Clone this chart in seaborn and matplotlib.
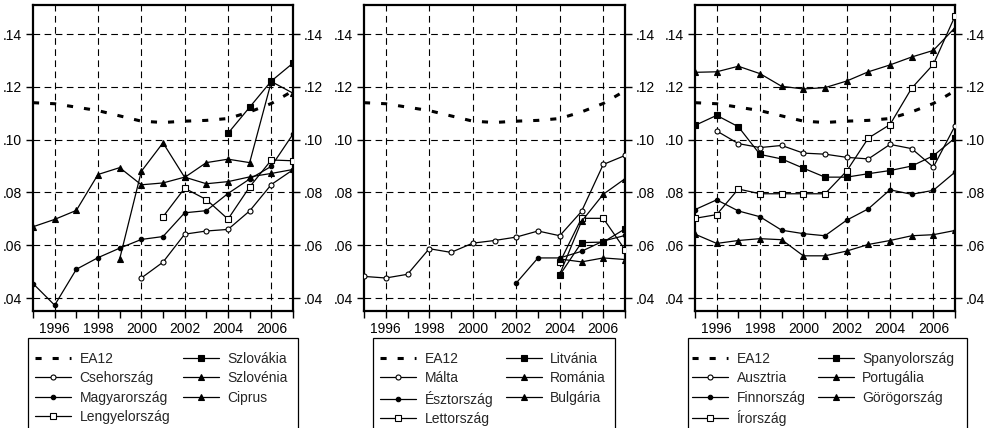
import matplotlib
matplotlib.use('Agg')
import matplotlib.pyplot as plt
import seaborn as sns
import pandas as pd
from matplotlib.lines import Line2D
from matplotlib.patches import Rectangle
from matplotlib.ticker import FixedLocator, FuncFormatter

# ---------------- data ----------------
years = list(range(1995, 2008))
x_major = [1996, 1998, 2000, 2002, 2004, 2006]
y_ticks = [0.04, 0.06, 0.08, 0.10, 0.12, 0.14]

ea12 = [0.1140, 0.1136, 0.1123, 0.1110, 0.1090, 0.1070, 0.1065, 0.1070, 0.1073, 0.1080, 0.1105, 0.1137, 0.1185]

# panel 1
csehorszag = [None, None, None, None, None, 0.0476, 0.0536, 0.0642, 0.0654, 0.0660, 0.0730, 0.0830, 0.0886]
magyarorszag = [0.0455, 0.0373, 0.0509, 0.0553, 0.0589, 0.0622, 0.0633, 0.0723, 0.0731, 0.0796, 0.0851, 0.0899, 0.1021]
lengyelorszag = [None, None, None, None, None, None, 0.0708, 0.0816, 0.0773, 0.0699, 0.0821, 0.0923, 0.0920]
szlovakia = [None, None, None, None, None, None, None, None, None, 0.1024, 0.1123, 0.1222, 0.1290]
szlovenia = [0.0670, 0.0698, 0.0732, 0.0868, 0.0894, 0.0829, 0.0836, 0.0858, 0.0833, 0.0841, 0.0859, 0.0872, 0.0887]
ciprus = [None, None, None, None, 0.0548, 0.0880, 0.0988, 0.0857, 0.0913, 0.0926, 0.0913, 0.1220, 0.1176]

# panel 2
malta = [0.0482, 0.0476, 0.0490, 0.0587, 0.0573, 0.0608, 0.0618, 0.0631, 0.0654, 0.0636, 0.0728, 0.0906, 0.0940]
esztorszag = [None, None, None, None, None, None, None, 0.0457, 0.0552, 0.0552, 0.0577, 0.0616, 0.0637]
lettorszag = [None, None, None, None, None, None, None, None, None, 0.0535, 0.0702, 0.0702, 0.0583]
litvania = [None, None, None, None, None, None, None, None, None, 0.0487, 0.0610, 0.0612, 0.0662]
romania = [None, None, None, None, None, None, None, None, None, 0.0490, 0.0690, 0.0793, 0.0852]
bulgaria = [None, None, None, None, None, None, None, None, None, 0.0548, 0.0537, 0.0552, 0.0546]

# panel 3
ausztria = [None, 0.1033, 0.0985, 0.0970, 0.0978, 0.0949, 0.0945, 0.0933, 0.0927, 0.0982, 0.0966, 0.0896, 0.1052]
finnorszag = [0.0735, 0.0772, 0.0730, 0.0708, 0.0657, 0.0644, 0.0636, 0.0695, 0.0738, 0.0810, 0.0793, 0.0808, 0.0877]
irorszag = [0.0702, 0.0716, 0.0813, 0.0795, 0.0795, 0.0795, 0.0795, 0.0881, 0.1006, 0.1057, 0.1195, 0.1285, 0.1468]
spanyolorszag = [0.1054, 0.1092, 0.1049, 0.0944, 0.0927, 0.0892, 0.0858, 0.0858, 0.0871, 0.0883, 0.0900, 0.0939, 0.1006]
portugalia = [0.1255, 0.1257, 0.1278, 0.1250, 0.1202, 0.1192, 0.1197, 0.1222, 0.1257, 0.1283, 0.1313, 0.1338, 0.1424]
gorogorszag = [0.0642, 0.0607, 0.0618, 0.0625, 0.0621, 0.0560, 0.0560, 0.0578, 0.0603, 0.0618, 0.0636, 0.0640, 0.0656]

# ---------------- styles ----------------
ST_EA = dict(marker=None, ls=(0, (2.0, 3.6)), lw=2.2)
ST_OC = dict(marker='o', mfc='white', ms=3.6, ls='-', lw=0.9)   # open circle
ST_FC = dict(marker='o', mfc='black', ms=3.2, ls='-', lw=0.9)   # filled circle
ST_OS = dict(marker='s', mfc='white', ms=5.0, ls='-', lw=0.9)   # open square
ST_FS = dict(marker='s', mfc='black', ms=4.6, ls='-', lw=0.9)   # filled square
ST_TR = dict(marker='^', mfc='black', ms=4.6, ls='-', lw=0.9)   # triangle

panels = [
    dict(left=33, width=260, box=(28, 298), leg_left=29.5,
         series=[("EA12", ea12, ST_EA), ("Csehország", csehorszag, ST_OC),
                 ("Magyarország", magyarorszag, ST_FC), ("Lengyelország", lengyelorszag, ST_OS),
                 ("Szlovákia", szlovakia, ST_FS), ("Szlovénia", szlovenia, ST_TR),
                 ("Ciprus", ciprus, ST_TR)]),
    dict(left=364, width=261, box=(373, 615), leg_left=374.5,
         series=[("EA12", ea12, ST_EA), ("Málta", malta, ST_OC),
                 ("Észtország", esztorszag, ST_FC), ("Lettország", lettorszag, ST_OS),
                 ("Litvánia", litvania, ST_FS), ("Románia", romania, ST_TR),
                 ("Bulgária", bulgaria, ST_TR)]),
    dict(left=695, width=260, box=(688, 967), leg_left=686.5,
         series=[("EA12", ea12, ST_EA), ("Ausztria", ausztria, ST_OC),
                 ("Finnország", finnorszag, ST_FC), ("Írország", irorszag, ST_OS),
                 ("Spanyolország", spanyolorszag, ST_FS), ("Portugália", portugalia, ST_TR),
                 ("Görögország", gorogorszag, ST_TR)]),
]

sns.set_theme(style='ticks')
plt.rcParams['font.family'] = ['Liberation Sans', 'DejaVu Sans']

W, H = 990, 428
fig = plt.figure(figsize=(W / 100, H / 100), dpi=100)

top_px, bot_px = 5, 311
box_top = 338

for p in panels:
    ax = fig.add_axes([p['left'] / W, 1 - bot_px / H, p['width'] / W, (bot_px - top_px) / H])
    handles, labels = [], []
    for label, vals, st in p['series']:
        df = pd.DataFrame({'year': years, 'value': vals}).dropna()
        kw = dict(color='black', linewidth=st['lw'], linestyle=st['ls'])
        if st['marker']:
            kw.update(marker=st['marker'], markersize=st['ms'], markerfacecolor=st['mfc'],
                      markeredgecolor='black', markeredgewidth=0.8)
        sns.lineplot(data=df, x='year', y='value', ax=ax, legend=False, zorder=3, **kw)
        handles.append(Line2D([], [], **kw))
        labels.append(label)

    ax.set_xlim(1995, 2007)
    ax.set_ylim(0.0351, 0.151)
    ax.xaxis.set_major_locator(FixedLocator(x_major))
    ax.xaxis.set_minor_locator(FixedLocator([y for y in years if y not in x_major]))
    ax.yaxis.set_major_locator(FixedLocator(y_ticks))
    ax.yaxis.set_major_formatter(FuncFormatter(lambda v, pos: ('%.2f' % v).lstrip('0')))
    ax.set_xlabel('')
    ax.set_ylabel('')
    ax.set_axisbelow(True)
    ax.grid(True, which='major', color='black', linestyle=(0, (6, 4)), linewidth=0.8)
    ax.tick_params(axis='both', which='both', direction='out', length=5, width=1,
                   color='black', labelsize=10, labelcolor='black', pad=3)
    ax.tick_params(axis='y', left=True, right=True, labelleft=True, labelright=True)
    ax.tick_params(axis='x', bottom=True, top=False)
    for s in ax.spines.values():
        s.set_visible(True)
        s.set_color('black')
        s.set_linewidth(1.6)

    # legend frame (box runs off the bottom edge of the figure)
    x0, x1 = p['box']
    fig.patches.append(Rectangle((x0 / W, -0.05), (x1 - x0) / W, 1 - box_top / H + 0.05,
                                 transform=fig.transFigure, fill=False,
                                 edgecolor='black', linewidth=0.9))
    fig.legend(handles, labels, loc='upper left',
               bbox_to_anchor=(p['leg_left'] / W, 1 - 346.5 / H),
               ncol=2, frameon=False, fontsize=10, handlelength=2.6, handletextpad=0.6,
               columnspacing=0.9, labelspacing=0.38, borderpad=0.4,
               borderaxespad=0)

fig.savefig('out.png', dpi=100)
